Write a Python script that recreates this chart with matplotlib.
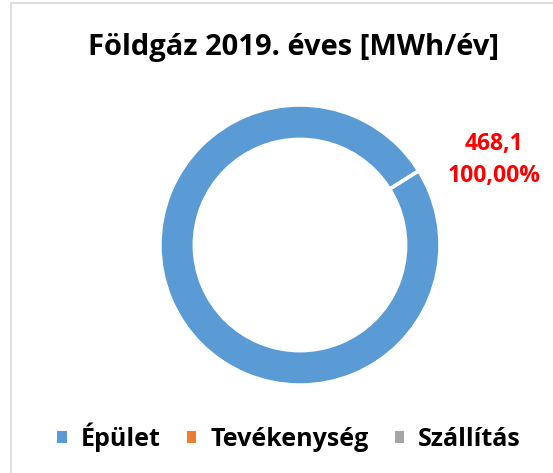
import matplotlib
matplotlib.use("Agg")
import matplotlib.pyplot as plt
from matplotlib.patches import Patch, Rectangle

plt.rcParams['font.family'] = ['Open Sans', 'DejaVu Sans']

# adatok
kategoriak = ['Épület', 'Tevékenység', 'Szállítás']
ertekek = [468.1, 0.0, 0.0]
szinek = ['#5B9BD5', '#ED7D31', '#A5A5A5']
cim = 'Földgáz 2019. éves [MWh/év]'

fig = plt.figure(figsize=(5.53, 4.73), dpi=100)

# keret
fig.patches.append(Rectangle((11 / 553, -0.1), 1.2, 1 - 3.5 / 473 + 0.1,
                             transform=fig.transFigure, fill=False,
                             edgecolor='#D9D9D9', linewidth=1.2))

ax = fig.add_axes([0.2893, 0.186, 0.5063, 0.592])
ax.pie(ertekek, colors=szinek, startangle=32, counterclock=False, radius=1.02,
       wedgeprops=dict(width=0.25, edgecolor='white', linewidth=2.5))
ax.set_xlim(-1.02, 1.02)
ax.set_ylim(-1.02, 1.02)
ax.set_aspect('equal')

osszeg = sum(ertekek)
cimke = '{:.1f}'.format(ertekek[0]).replace('.', ',') + '\n' + \
        '{:.2f}%'.format(ertekek[0] / osszeg * 100).replace('.', ',')
fig.text(494 / 553, 1 - 160 / 473, cimke, color='#FF0000', fontsize=16.5,
         fontweight='bold', ha='center', va='center', linespacing=1.45)

fig.text(293 / 553, 1 - 47 / 473, cim, fontsize=21, fontweight='bold',
         ha='center', va='center')

kezelok = [Patch(facecolor=c, edgecolor='none') for c in szinek]
fig.legend(kezelok, kategoriak, loc='center', bbox_to_anchor=(289 / 553, 1 - 437 / 473),
           ncol=3, frameon=False,
           prop={'weight': 'bold', 'size': 18, 'style': 'normal'},
           handlelength=0.38, handleheight=0.38, handletextpad=0.55, columnspacing=1.05)

fig.savefig('out.png', dpi=100)
